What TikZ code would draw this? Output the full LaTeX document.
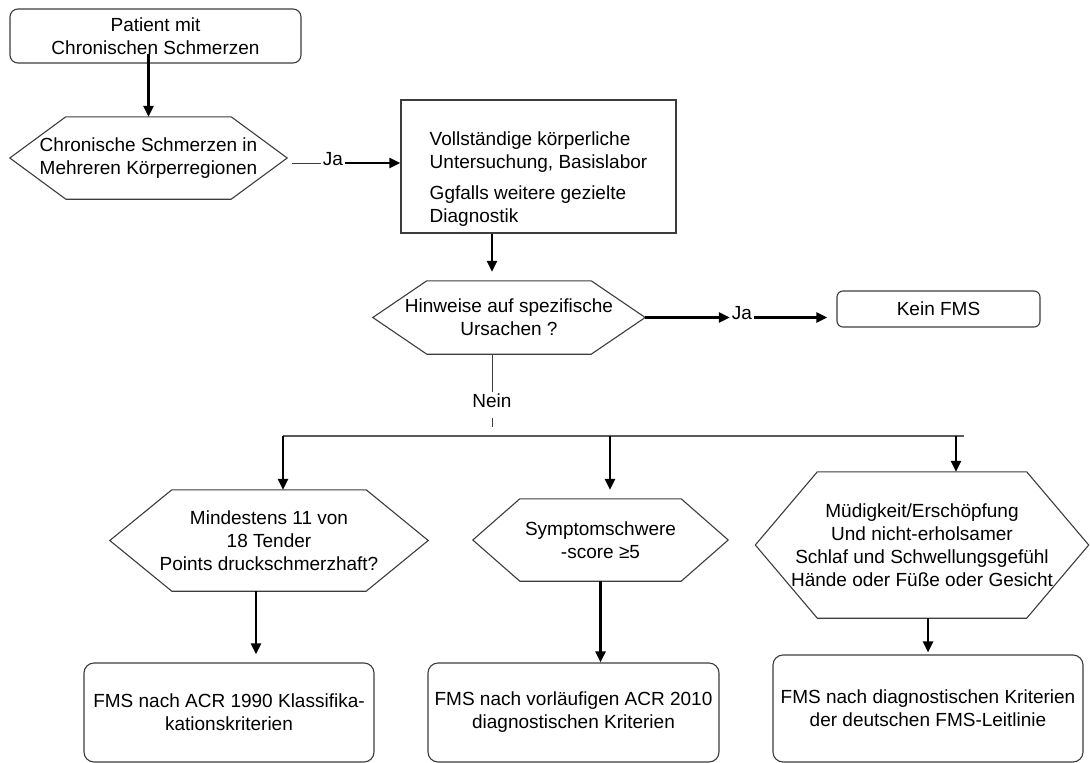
\documentclass[tikz,border=0pt]{standalone}
\usepackage{fontspec}
\setmainfont{Liberation Sans}
\usetikzlibrary{arrows.meta}
\usetikzlibrary{calc}
\usetikzlibrary{positioning}
\definecolor{outl}{RGB}{60,60,60}
\definecolor{spine}{RGB}{90,90,90}

\begin{document}
\begin{tikzpicture}[x=1pt,y=-1pt,font=\fontsize{19}{23}\selectfont]
	\tikzstyle{box}=[draw=outl, line width=1.1pt, rounded corners=10pt, align=center, inner sep=2pt]
	\tikzstyle{plain}=[draw=outl, line width=1.1pt, align=left, inner sep=4pt]
	\tikzstyle{hex}=[align=center, inner sep=0pt]
	\tikzstyle{lbl}=[inner sep=2pt]
	\tikzstyle{arr}=[-{Triangle[length=11pt,width=10pt]}, line width=2.5pt]
	\tikzstyle{wire}=[draw=outl, line width=1pt]
	\useasboundingbox (0,0) rectangle (1090,763);

	% top part
	\node[box, rounded corners=8pt, minimum width=291pt, minimum height=54pt] (start) at (155.5,36) {Patient mit\\Chronischen Schmerzen};
	\node[hex, minimum width=277pt, minimum height=82pt] (q1) at (148.5,158) {Chronische Schmerzen in\\Mehreren Körperregionen};
	\node[lbl, anchor=mid] (ja1) at (333,163) {Ja};
	\node[plain, minimum width=275pt, minimum height=133pt, text height=115pt, text depth=4pt] (exam) at (538.5,166.5) {Vollständige körperliche\\Untersuchung, Basislabor\\[8pt]Ggfalls weitere gezielte\\Diagnostik};
	\node[hex, minimum width=272pt, minimum height=73pt] (q2) at (509,317.5) {Hinweise auf spezifische\\Ursachen ?};
	\node[lbl, anchor=mid] (ja2) at (742,317) {Ja};
	\node[box, rounded corners=6pt, minimum width=203pt, minimum height=36pt] (kein) at (938.5,309) {Kein FMS};
	\node[lbl] (nein) at (492,401) {Nein};

	% branches
	\coordinate (split) at (492,436);
	\coordinate (b1) at (283,436);
	\coordinate (b2) at (610,436);
	\coordinate (b3) at (956,436);
	\coordinate (bend) at (964,436);
	\node[hex, minimum width=318pt, minimum height=101pt] (q3) at (269,540.5) {Mindestens 11 von\\18 Tender\\Points druckschmerzhaft?};
	\node[hex, minimum width=255pt, minimum height=82pt] (q4) at (600.5,540) {Symptomschwere\\-score ≥5};
	\node[hex, minimum width=333pt, minimum height=146pt] (q5) at (922,545) {Müdigkeit/Erschöpfung\\Und nicht-erholsamer\\Schlaf und Schwellungsgefühl\\Hände oder Füße oder Gesicht};
	\node[box, minimum width=290pt, minimum height=99pt] (r1) at (229,712.5) {FMS nach ACR 1990 Klassifika-\\kationskriterien};
	\node[box, minimum width=291pt, minimum height=99pt] (r2) at (573.5,712.5) {FMS nach vorläufigen ACR 2010\\diagnostischen Kriterien};
	\node[box, minimum width=310pt, minimum height=107pt] (r3) at (928,708.5) {FMS nach diagnostischen Kriterien\\der deutschen FMS-Leitlinie};
	\coordinate (c1) at ([xshift=-13pt]q3.south);

	\foreach \n/\d in {q1/56,q2/54,q3/62,q4/47,q5/62}{
		\draw[draw=outl, line width=1.1pt] ($(\n.north west)+(\d,0)$) -- ($(\n.north east)+(-\d,0)$) -- (\n.east)
			-- ($(\n.south east)+(-\d,0)$) -- ($(\n.south west)+(\d,0)$) -- (\n.west) -- cycle;
		}

	\draw[arr] (q1.north |- start.south) ++(0,-10) -- (q1.north);
	\draw[wire, shorten <=5pt] (q1.east |- ja1.mid west) -- (ja1.mid west);
	\draw[arr] (ja1.mid east) -- (ja1.mid east -| exam.west);
	\draw[arr, shorten >=9pt] (exam.south -| nein) -- (q2.north -| nein);
	\draw[arr] (q2.east) -- (q2.east -| ja2.west);
	\draw[arr, shorten >=9pt] (ja2.east |- q2.east) -- (kein.west |- q2.east);
	\draw[wire] (nein.north |- q2.south) -- (nein.north);
	\draw[wire, shorten <=8pt, shorten >=9pt] (nein.south) -- (split);
	\draw[draw=spine, line width=1.6pt] (b1) -- (bend);
	\draw[arr] (b1) -- (b1 |- q3.north);
	\draw[arr, shorten >=9pt] (b2) -- (b2 |- q4.north);
	\draw[arr] (b3) -- (b3 |- q5.north);
	\draw[arr, shorten >=8pt] (c1) -- (c1 |- r1.north);
	\draw[arr] (q4.south) -- (q4.south |- r2.north);
	\draw[arr, shorten >=2pt] (r3.north |- q5.south) -- (r3.north);
\end{tikzpicture}
\end{document}
